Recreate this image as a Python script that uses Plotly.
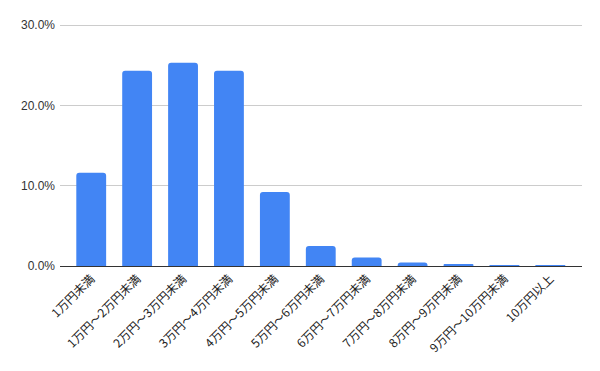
import plotly.graph_objects as go

categories = ["1万円未満", "1万円～2万円未満", "2万円～3万円未満", "3万円～4万円未満",
              "4万円～5万円未満", "5万円～6万円未満", "6万円～7万円未満", "7万円～8万円未満",
              "8万円～9万円未満", "9万円～10万円未満", "10万円以上"]
shares = [0.116, 0.243, 0.253, 0.243, 0.092, 0.025, 0.0106, 0.0044, 0.0019, 0.0008, 0.0007]
y_ticks = [0, 0.1, 0.2, 0.3]

fig = go.Figure(go.Bar(
    x=list(range(len(categories))), y=shares,
    marker=dict(color="#4285F4", cornerradius=3, line=dict(width=0)),
    width=0.65,
))
fig.update_layout(
    width=600, height=371,
    margin=dict(l=60, r=18, t=24, b=104.5),
    paper_bgcolor="white", plot_bgcolor="white",
    showlegend=False,
    font=dict(family="Liberation Sans, Arial, sans-serif", color="#444"),
)
fig.update_xaxes(
    tickmode="array", tickvals=list(range(len(categories))), ticktext=categories,
    tickangle=-45, range=[-0.68, 10.69],
    tickfont=dict(family="Noto Sans CJK JP, sans-serif", size=12, color="#222"),
    showgrid=False, showline=True, linecolor="#333", linewidth=1,
    ticks="", zeroline=False,
)
fig.update_yaxes(
    range=[0, 0.3013], tickvals=y_ticks, tickformat=".1%",
    showgrid=True, gridcolor="#cccccc", gridwidth=1,
    zeroline=False, showline=False, ticks="",
    ticklabelstandoff=4,
    tickfont=dict(size=12, color="#333"),
)
fig.write_html("out.html")
